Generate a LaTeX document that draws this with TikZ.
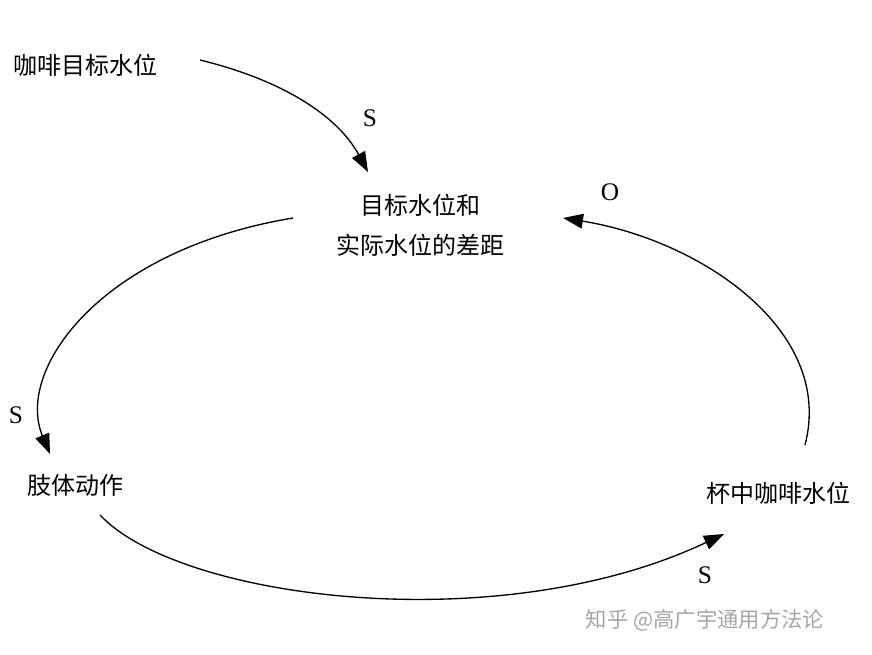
\documentclass[tikz,border=0pt]{standalone}
\usepackage{fontspec}
\setmainfont{Liberation Serif}
\newfontfamily\cjk{Noto Sans CJK SC}
\usetikzlibrary{arrows.meta}
\begin{document}
\begin{tikzpicture}[x=0.75pt,y=-0.75pt,
  lbl/.style={font=\cjk\fontsize{18}{30}\selectfont,align=center,inner sep=0},
  sl/.style={font=\fontsize{19}{20}\selectfont,inner sep=0},
  arr/.style={line width=1pt,-{Triangle[length=15pt,width=11pt]}}]
\useasboundingbox[fill=white] (0,0) rectangle (872,654);
\node[lbl] (A) at (85,65) {咖啡目标水位};
\node[lbl] (B) at (420,225) {目标水位和\\实际水位的差距};
\node[lbl] (C) at (75,485) {肢体动作};
\node[lbl] (D) at (778,493) {杯中咖啡水位};
\node[sl] (s1) at (370,118) {S};
\node[sl] (s2) at (16,415) {S};
\node[sl] (s3) at (705,575) {S};
\node[sl] (o1) at (610,192) {O};
\node[font=\cjk\fontsize{16}{18}\selectfont,text=black!35] (wm) at (705,620) {知乎 @高广宇通用方法论};
\coordinate (a1) at (200,60); \coordinate (b1) at (368,172);
\coordinate (b2) at (293,218); \coordinate (c1) at (50,454);
\coordinate (c2) at (100,515); \coordinate (d1) at (724,534);
\coordinate (d2) at (805,445); \coordinate (b3) at (563,218);
\draw[arr] (a1) .. controls (290,82) and (340,120) .. (b1);
\draw[arr] (b2) .. controls (100,250) and (15,370) .. (c1);
\draw[arr] (c2) .. controls (180,600) and (500,640) .. (d1);
\draw[arr] (d2) .. controls (835,330) and (700,240) .. (b3);
\end{tikzpicture}
\end{document}
